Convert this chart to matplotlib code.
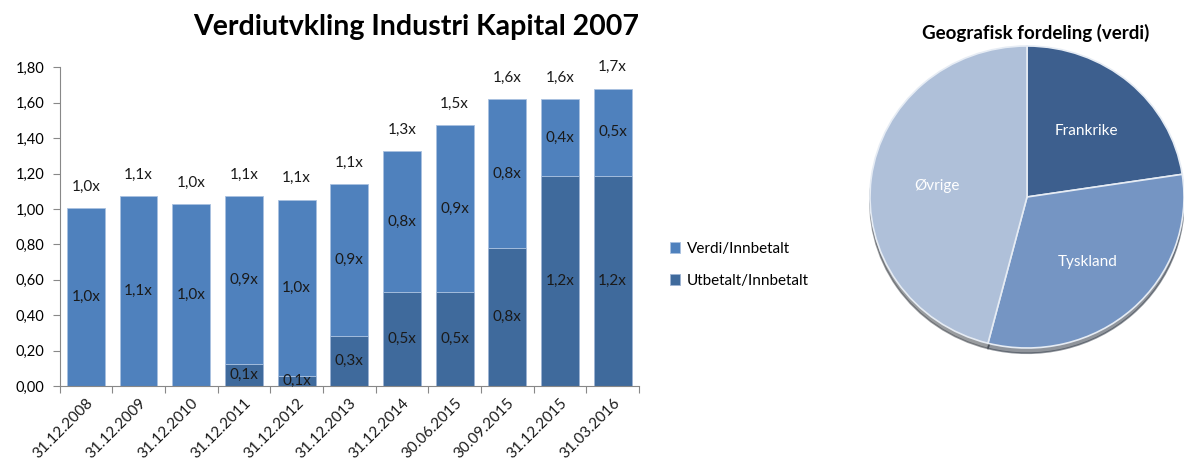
import matplotlib
matplotlib.use("Agg")
import matplotlib.pyplot as plt
import matplotlib.transforms as mtransforms

plt.rcParams['font.family'] = ['Lato', 'DejaVu Sans']

categories = ["31.12.2008", "31.12.2009", "31.12.2010", "31.12.2011", "31.12.2012",
              "31.12.2013", "31.12.2014", "30.06.2015", "30.09.2015", "31.12.2015", "31.03.2016"]
utbetalt = [0.0, 0.0, 0.0, 0.125, 0.055, 0.284, 0.53, 0.53, 0.78, 1.185, 1.185]
verdi = [1.004, 1.072, 1.028, 0.950, 0.998, 0.857, 0.798, 0.945, 0.840, 0.435, 0.495]
y_ticks = [0.0, 0.2, 0.4, 0.6, 0.8, 1.0, 1.2, 1.4, 1.6, 1.8]

pie_labels = ["Frankrike", "Tyskland", "Øvrige"]
pie_values = [22.6, 31.4, 46.0]

c_light = "#4F81BD"
c_dark = "#3F6A9C"
pie_colors = ["#3D5F8E", "#7595C3", "#AFC0D9"]

fig = plt.figure(figsize=(11.84, 4.61), dpi=100)
W, H = 1184, 461

def ax_rect(x0, y0, x1, y1):
    return [x0 / W, 1 - y1 / H, (x1 - x0) / W, (y1 - y0) / H]

ax = fig.add_axes(ax_rect(59.5, 67.3, 639, 386))
x = list(range(len(categories)))
tot = [u + v for u, v in zip(utbetalt, verdi)]
ax.bar(x, utbetalt, width=0.72, color=c_dark, edgecolor="#9DB3D3", linewidth=0.6, label="Utbetalt/Innbetalt", zorder=2)
ax.bar(x, verdi, width=0.72, bottom=utbetalt, color=c_light, edgecolor="#A9C1E0", linewidth=0.6, label="Verdi/Innbetalt", zorder=2)

def fmt(v):
    return ("%.1fx" % v).replace(".", ",")

for i in x:
    ax.text(i, utbetalt[i] + verdi[i] / 2, fmt(verdi[i]), ha="center", va="center", fontsize=11, color="#1a1a1a", zorder=3)
    if utbetalt[i] > 0:
        yl = utbetalt[i] / 2
        ax.text(i, yl, fmt(utbetalt[i]), ha="center", va="center", fontsize=11, color="#1a1a1a", zorder=3)
    ax.text(i, tot[i] + 0.12, fmt(tot[i]), ha="center", va="center", fontsize=11, color="#1a1a1a")

ax.set_xlim(-0.5, len(categories) - 0.5)
ax.set_ylim(0, 1.8)
ax.set_yticks(y_ticks)
ax.set_yticklabels([("%.2f" % t).replace(".", ",") for t in y_ticks], fontsize=10.5)
ax.set_xticks([i - 0.5 for i in range(len(categories) + 1)], minor=False)
ax.set_xticklabels([])
ax.tick_params(axis="x", length=5, color="#888888", direction="out")
ax.tick_params(axis="y", length=5, color="#888888", direction="out", pad=6)
for s in ["top", "right"]:
    ax.spines[s].set_visible(False)
for s in ["left", "bottom"]:
    ax.spines[s].set_color("#888888")
offset = mtransforms.ScaledTranslation(0.0, -0.05, fig.dpi_scale_trans)
for i, c in enumerate(categories):
    ax.text(i, -0.03, c, rotation=45, rotation_mode="anchor", ha="right", va="top",
            fontsize=11, transform=ax.transData + offset, color="#1a1a1a", clip_on=False)

fig.text(416 / W, 1 - 27 / H, "Verdiutvkling Industri Kapital 2007", ha="center", va="center",
         fontsize=20.5, fontweight="bold")

handles, labels = ax.get_legend_handles_labels()
leg = fig.legend(handles[::-1], labels[::-1], loc="upper left", bbox_to_anchor=(656 / W, 1 - 228 / H),
                 frameon=False, fontsize=11, handlelength=0.7, handleheight=0.7, handletextpad=0.4,
                 labelspacing=1.2)

# pie
pax = fig.add_axes(ax_rect(870, 46, 1184, 348))
wedges, texts = pax.pie(pie_values, labels=pie_labels, colors=pie_colors, startangle=90, counterclock=False,
                        labeldistance=0.58, radius=1.0,
                        wedgeprops=dict(edgecolor="#E6ECF4", linewidth=1.2),
                        textprops=dict(color="white", fontsize=11, ha="center", va="center"),
                        shadow=dict(ox=0.0, oy=-0.025, shade=0.7))
pax.set_aspect("auto")
pax.set_xlim(-1, 1)
pax.set_ylim(-1, 1)
pax.axis("off")
fig.text(1036 / W, 1 - 33 / H, "Geografisk fordeling (verdi)", ha="center", va="center",
         fontsize=13.5, fontweight="bold")

fig.savefig("out.png", dpi=100, facecolor="white")
